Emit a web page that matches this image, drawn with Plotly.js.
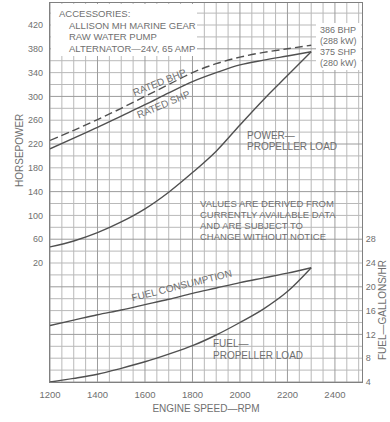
<!DOCTYPE html>
<html>
<head>
<meta charset="utf-8">
<script src="https://cdn.plot.ly/plotly-3.0.1.min.js"></script>
<style>html,body{margin:0;padding:0;background:#fff;}#chart{width:390px;height:422px;}</style>
</head>
<body>
<div id="chart"></div>
<script>
// ---- data ----
const rpm = [1200,1300,1400,1500,1600,1700,1800,1900,2000,2100,2200,2300];
const ratedBHP = [226,243,261,280,300,320,340,355,366,374,380,386];
const ratedSHP = [212,230,248,267,286,306,325,340,353,361,368,375];
const powerPropLoad = [47,57,71,89,111,139,172,208,252,295,335,375];
const fuelConsumption = [13.5,14.4,15.3,16.1,17.0,17.9,18.9,19.8,20.7,21.5,22.3,23.2];
const fuelPropLoad = [4.0,4.6,5.3,6.3,7.4,8.7,10.1,11.9,14.0,16.3,19.2,23.2];
const xTicks = [1200,1400,1600,1800,2000,2200,2400];
const hpTicks = [20,60,100,140,180,220,260,300,340,380,420];
const fuelTicks = [4,8,12,16,20,24,28];

// ---- layout helpers ----
const L = 50, T = 3, W = 312, H = 379;
const px = x => (x - L) / W;
const py = y => (T + H - y) / H;
const xRange = [1200, 2514];
const hpRange = [-180, 457];
const fuelRange = [(hpRange[0] + 220) / 10, (hpRange[1] + 220) / 10];
const TXT = '#6f6f6f', LINE = '#505050', FONT = 'Liberation Sans, Arial, sans-serif';
const GRID_MAJ = '#9c9c9c', GRID_MIN = '#b9b9b9', FRAME = '#808080';

const lineStyle = (dash) => ({color: LINE, width: 1.4, shape: 'spline', dash: dash || 'solid'});
const traces = [
  {x: rpm, y: ratedBHP, mode: 'lines', line: lineStyle('8px,4px'), xaxis: 'x', yaxis: 'y', hoverinfo: 'skip'},
  {x: rpm, y: ratedSHP, mode: 'lines', line: lineStyle(), xaxis: 'x', yaxis: 'y', hoverinfo: 'skip'},
  {x: rpm, y: powerPropLoad, mode: 'lines', line: lineStyle(), xaxis: 'x', yaxis: 'y', hoverinfo: 'skip'},
  {x: rpm, y: fuelConsumption, mode: 'lines', line: lineStyle(), xaxis: 'x', yaxis: 'y2', hoverinfo: 'skip'},
  {x: rpm, y: fuelPropLoad, mode: 'lines', line: lineStyle(), xaxis: 'x', yaxis: 'y2', hoverinfo: 'skip'}
];

// ---- graph-paper grid, built from the axis ranges (axis-referenced paths) ----
function gridPath(dir, start, step, lo, hi, skipEvery, skipOffset) {
  let d = '';
  const a = dir === 'v' ? xRange : hpRange;
  for (let i = 0, v = start; v <= a[1] + 1e-9; i++, v = start + i * step) {
    if (v < a[0] - 1e-9) continue;
    if (skipEvery && ((i - skipOffset) % skipEvery === 0)) continue;
    d += dir === 'v' ? `M${v},${lo}L${v},${hi}` : `M${lo},${v}L${hi},${v}`;
  }
  return d;
}
const gridShapes = [
  {type: 'path', xref: 'x', yref: 'y', layer: 'below', line: {color: GRID_MIN, width: 1},
   path: gridPath('v', 1200, 50, hpRange[0], hpRange[1], 4, 0)},
  {type: 'path', xref: 'x', yref: 'y', layer: 'below', line: {color: GRID_MIN, width: 1},
   path: gridPath('h', -180, 20, xRange[0], xRange[1], 4, 0)},
  {type: 'path', xref: 'x', yref: 'y', layer: 'below', line: {color: GRID_MAJ, width: 1},
   path: gridPath('v', 1200, 200, hpRange[0], hpRange[1])},
  {type: 'path', xref: 'x', yref: 'y', layer: 'below', line: {color: GRID_MAJ, width: 1},
   path: gridPath('h', -180, 80, xRange[0], xRange[1])}
];

function lab(text, x, y, o) {
  o = o || {};
  return Object.assign({
    text: text, xref: 'paper', yref: 'paper', x: px(x), y: py(y),
    xanchor: 'left', yanchor: 'middle', showarrow: false,
    font: {family: FONT, size: o.size || 9.5, color: TXT}
  }, o.extra || {});
}
const annotations = [
  lab('ACCESSORIES:', 57, 13),
  lab('ALLISON MH MARINE GEAR', 67, 25),
  lab('RAW WATER PUMP', 67, 36),
  lab('ALTERNATOR—24V, 65 AMP', 67, 48),
  lab('386 BHP', 318, 30, {size: 9}),
  lab('(288 kW)', 318, 41, {size: 9}),
  lab('375 SHP', 318, 52, {size: 9}),
  lab('(280 kW)', 318, 63, {size: 9}),
  lab('POWER—', 245, 135, {size: 10}),
  lab('PROPELLER LOAD', 245, 146, {size: 10}),
  lab('VALUES ARE DERIVED FROM', 198, 203),
  lab('CURRENTLY AVAILABLE DATA', 198, 214),
  lab('AND ARE SUBJECT TO', 198, 225),
  lab('CHANGE WITHOUT NOTICE', 198, 236),
  lab('FUEL—', 211, 343, {size: 10}),
  lab('PROPELLER LOAD', 211, 355, {size: 10}),
  lab('RATED BHP', 159, 82, {size: 10, extra: {xanchor: 'center', textangle: -22}}),
  lab('RATED SHP', 163, 104, {size: 10, extra: {xanchor: 'center', textangle: -23}}),
  lab('FUEL CONSUMPTION', 181, 285, {size: 10, extra: {xanchor: 'center', textangle: -14}}),
  lab('HORSEPOWER', 20, 151, {size: 10, extra: {xanchor: 'center', textangle: -90}}),
  lab('FUEL—GALLONS/HR', 382, 310, {size: 10, extra: {xanchor: 'center', textangle: -90}})
];

const shapes = gridShapes.concat([
  {type: 'rect', xref: 'paper', yref: 'paper', x0: px(51), x1: px(197), y0: py(56), y1: py(4),
   fillcolor: '#fff', line: {width: 0}, layer: 'above'},
  {type: 'rect', xref: 'paper', yref: 'paper', x0: px(316), x1: px(361), y0: py(70), y1: py(23),
   fillcolor: '#fff', line: {width: 0}, layer: 'above'}
]);

const layout = {
  width: 390, height: 422,
  margin: {l: L, r: 390 - L - W, t: T, b: 422 - T - H},
  paper_bgcolor: '#fff', plot_bgcolor: '#fff',
  showlegend: false,
  font: {family: FONT, color: TXT, size: 9.5},
  xaxis: {
    range: xRange, tickvals: xTicks, ticktext: xTicks.map(String),
    showgrid: false, zeroline: false, showline: true, linecolor: FRAME, linewidth: 1.2, mirror: true,
    ticks: 'outside', ticklen: 3, tickcolor: 'rgba(0,0,0,0)',
    tickfont: {family: FONT, size: 9.5, color: TXT},
    title: {text: 'ENGINE SPEED—RPM', font: {family: FONT, size: 10, color: TXT}, standoff: 6}
  },
  yaxis: {
    range: hpRange, tickvals: hpTicks, ticktext: hpTicks.map(String),
    showgrid: false, zeroline: false, showline: true, linecolor: FRAME, linewidth: 1.2, mirror: true,
    ticks: 'outside', ticklen: 4, tickcolor: 'rgba(0,0,0,0)',
    tickfont: {family: FONT, size: 9, color: TXT}
  },
  yaxis2: {
    range: fuelRange, overlaying: 'y', side: 'right', anchor: 'x',
    tickvals: fuelTicks, ticktext: fuelTicks.map(String),
    showgrid: false, zeroline: false, showline: false,
    ticks: 'outside', ticklen: 1, tickcolor: 'rgba(0,0,0,0)',
    tickfont: {family: FONT, size: 9, color: TXT}
  },
  annotations: annotations,
  shapes: shapes
};

Plotly.newPlot('chart', traces, layout, {displayModeBar: false});
</script>
</body>
</html>
